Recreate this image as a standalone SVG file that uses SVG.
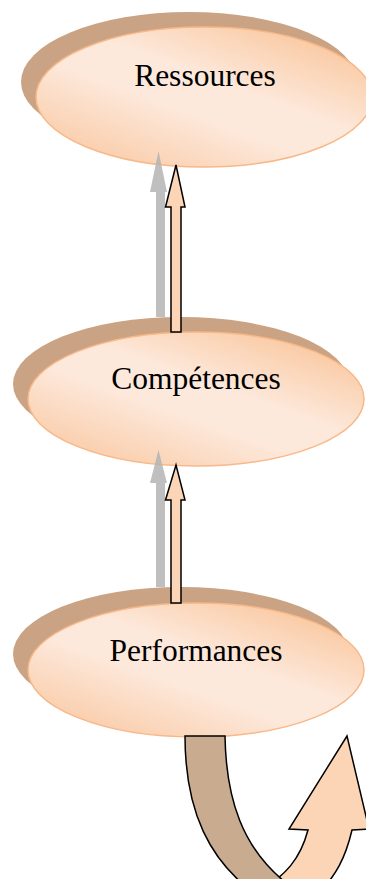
<svg xmlns="http://www.w3.org/2000/svg" width="366" height="879" viewBox="0 0 366 879">
<defs>
<linearGradient id="g" x1="0.95" y1="0.05" x2="0.1" y2="1">
<stop offset="0" stop-color="#f9c295"/>
<stop offset="0.42" stop-color="#fde9dc"/>
<stop offset="0.58" stop-color="#fde9dc"/>
<stop offset="1" stop-color="#f9c7a0"/>
</linearGradient>
<style>
.sh{fill:#c9a383}
.el{fill:url(#g);stroke:#f8b888;stroke-width:1.5}
.tx{font-family:"Liberation Serif","Times New Roman",serif;font-size:31.5px;fill:#000;text-anchor:middle}
.ga{fill:#b4b4b4;fill-opacity:0.85}
.pa{fill:#fbd5b5;stroke:#000;stroke-width:1.5;stroke-linejoin:miter}
</style>
</defs>
<g id="ressources">
<ellipse class="sh" cx="189" cy="82" rx="168" ry="70"/>
<ellipse class="el" cx="204" cy="97" rx="168" ry="70"/>
<text class="tx" x="205" y="86">Ressources</text>
</g>
<g id="competences">
<ellipse class="sh" cx="181" cy="384" rx="168" ry="67"/>
<ellipse class="el" cx="196" cy="399" rx="168" ry="67"/>
<text class="tx" x="196" y="389">Compétences</text>
</g>
<g id="performances">
<ellipse class="sh" cx="181" cy="654" rx="168" ry="67"/>
<ellipse class="el" cx="196" cy="670" rx="168" ry="67"/>
<text class="tx" x="196" y="661">Performances</text>
</g>
<g id="connectors">
<path class="ga" d="M156,317 L156,192 L150,192 L158.5,151 L167,192 L165,192 L165,317 Z"/>
<path class="pa" d="M171,332 L171,207 L165.5,207 L176,165 L185,207 L181,207 L181,332 Z"/>
<path class="ga" d="M156,587 L156,483 L150,483 L158.5,450 L167,483 L165,483 L165,587 Z"/>
<path class="pa" d="M171,603 L171,500 L165.5,500 L176,465 L185,500 L181,500 L181,603 Z"/>
<path class="pa" d="M262,890 C285,875 300,860 308,830 L289,829 L347,736 L369,829 L352,830 C345,860 335,875 322,890 Z"/>
<path fill="#c9ab90" stroke="#000" stroke-width="1.5" d="M185,736 L225,736 C226,800 243,848 285,882 L250,890 C212,860 185,815 185,736 Z"/>
</g>
</svg>
